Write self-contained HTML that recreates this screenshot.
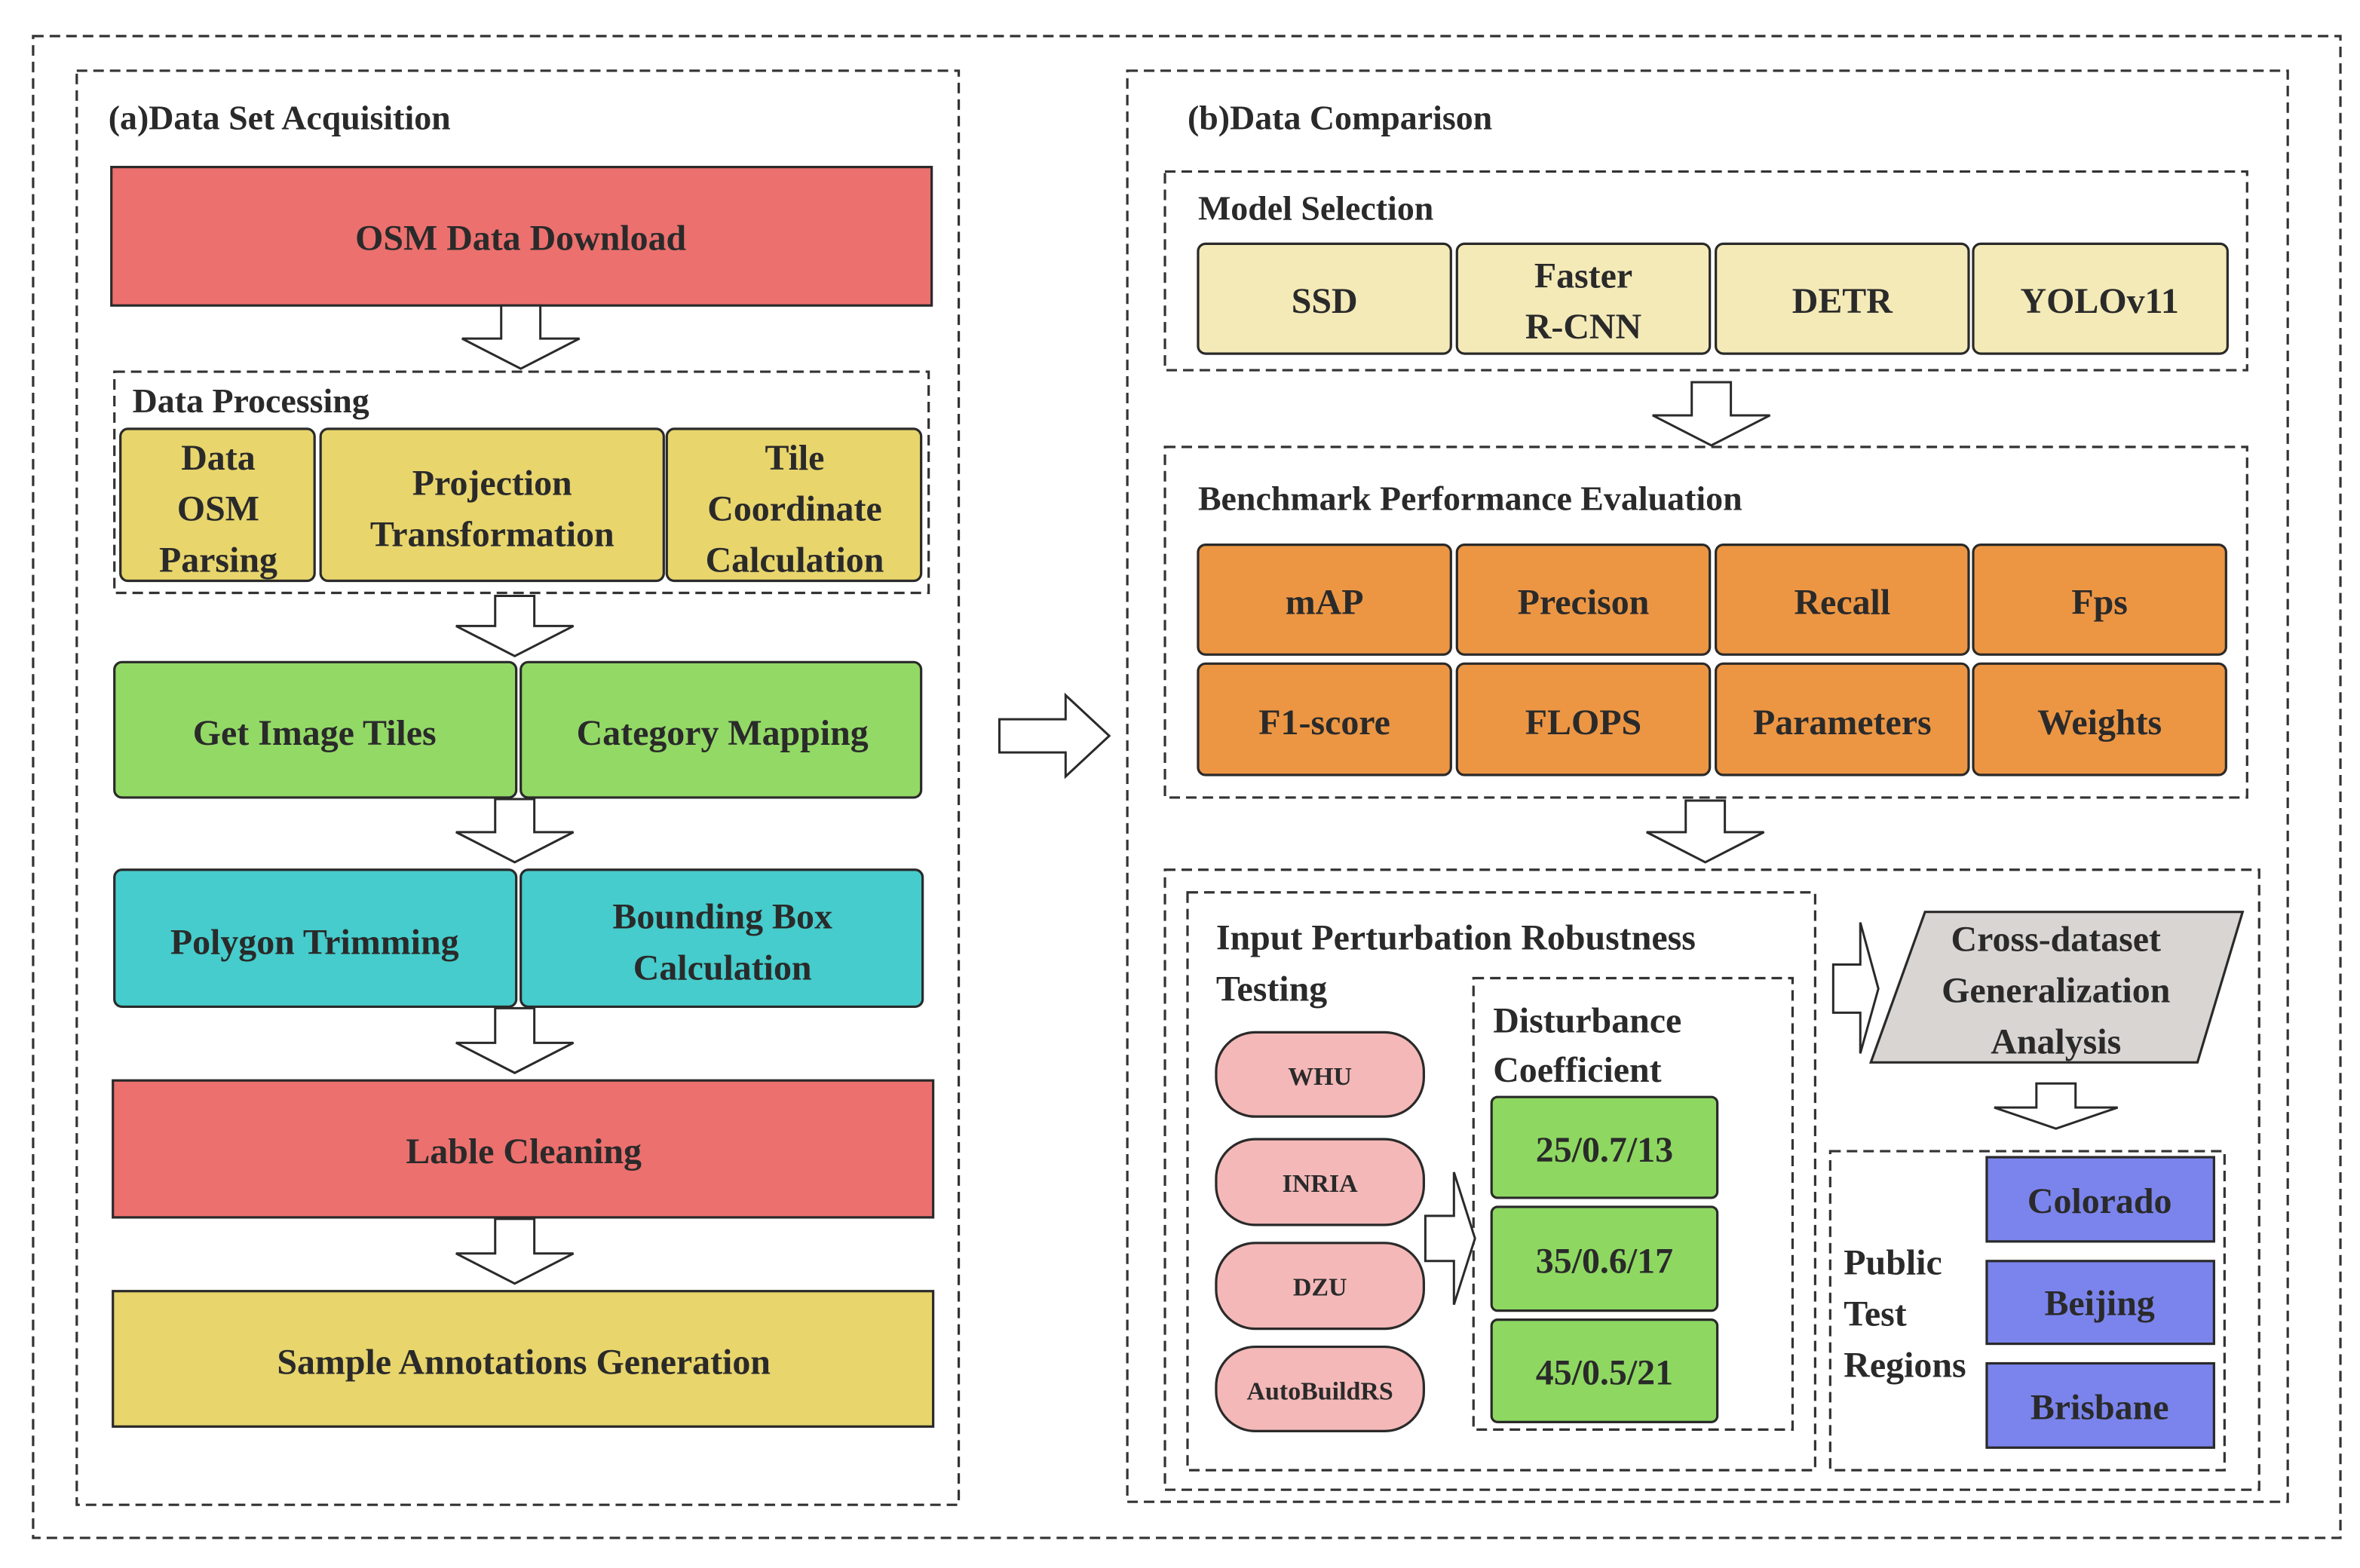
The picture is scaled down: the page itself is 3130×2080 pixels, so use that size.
<!DOCTYPE html>
<html><head><meta charset="utf-8"><style>
html,body{margin:0;padding:0;background:#fff;}
svg{display:block;}
text{font-family:"Liberation Serif","Times New Roman",Times,"DejaVu Serif Condensed","DejaVu Serif",serif;font-weight:bold;fill:#2a2a2a;}
</style></head><body>
<svg width="3130" height="2080" viewBox="0 0 1568 1042" preserveAspectRatio="none" xmlns="http://www.w3.org/2000/svg">
<defs>
<style>
.d{fill:none;stroke:#333;stroke-width:1.6;stroke-dasharray:7,4;}
.b{stroke:#2a2a2a;stroke-width:1.6;}
.ar{fill:#fff;stroke:#2a2a2a;stroke-width:1.5;}
.c{text-anchor:middle;}
</style>
</defs>
<rect class="d" x="22" y="24" width="1533" height="998"/>
<rect class="d" x="51" y="47" width="586" height="953"/>
<text x="72" y="86" font-size="23">(a)Data Set Acquisition</text>
<rect class="b" x="74" y="111" width="545" height="92" fill="#ec706e"/>
<text class="c" x="346" y="166" font-size="24">OSM Data Download</text>
<path class="ar" d="M333,203 L359,203 L359,225 L385,225 L346,245 L307,225 L333,225 Z"/>
<rect class="d" x="76" y="247" width="541" height="147"/>
<text x="88" y="274" font-size="23">Data Processing</text>
<rect class="b" x="80" y="285" width="129" height="101" rx="5" fill="#e8d56c"/>
<rect class="b" x="213" y="285" width="228" height="101" rx="5" fill="#e8d56c"/>
<rect class="b" x="443" y="285" width="169" height="101" rx="5" fill="#e8d56c"/>
<text class="c" x="145" y="312" font-size="24">Data</text>
<text class="c" x="145" y="346" font-size="24">OSM</text>
<text class="c" x="145" y="380" font-size="24">Parsing</text>
<text class="c" x="327" y="329" font-size="24">Projection</text>
<text class="c" x="327" y="363" font-size="24">Transformation</text>
<text class="c" x="528" y="312" font-size="24">Tile</text>
<text class="c" x="528" y="346" font-size="24">Coordinate</text>
<text class="c" x="528" y="380" font-size="24">Calculation</text>
<path class="ar" d="M329,396 L355,396 L355,416 L381,416 L342,436 L303,416 L329,416 Z"/>
<rect class="b" x="76" y="440" width="267" height="90" rx="5" fill="#93d966"/>
<rect class="b" x="346" y="440" width="266" height="90" rx="5" fill="#93d966"/>
<text class="c" x="209" y="495" font-size="24">Get Image Tiles</text>
<text class="c" x="480" y="495" font-size="24">Category Mapping</text>
<path class="ar" d="M329,531 L355,531 L355,553 L381,553 L342,573 L303,553 L329,553 Z"/>
<rect class="b" x="76" y="578" width="267" height="91" rx="5" fill="#46cccc"/>
<rect class="b" x="346" y="578" width="267" height="91" rx="5" fill="#46cccc"/>
<text class="c" x="209" y="634" font-size="24">Polygon Trimming</text>
<text class="c" x="480" y="617" font-size="24">Bounding Box</text>
<text class="c" x="480" y="651" font-size="24">Calculation</text>
<path class="ar" d="M329,670 L355,670 L355,693 L381,693 L342,713 L303,693 L329,693 Z"/>
<rect class="b" x="75" y="718" width="545" height="91" fill="#ec706e"/>
<text class="c" x="348" y="773" font-size="24">Lable Cleaning</text>
<path class="ar" d="M329,810 L355,810 L355,833 L381,833 L342,853 L303,833 L329,833 Z"/>
<rect class="b" x="75" y="858" width="545" height="90" fill="#e8d56c"/>
<text class="c" x="348" y="913" font-size="24">Sample Annotations Generation</text>
<path class="ar" d="M664,478 L708,478 L708,462 L737,489 L708,516 L708,500 L664,500 Z"/>
<rect class="d" x="749" y="47" width="771" height="951"/>
<text x="789" y="86" font-size="23">(b)Data Comparison</text>
<rect class="d" x="774" y="114" width="719" height="132"/>
<text x="796" y="146" font-size="23">Model Selection</text>
<rect class="b" x="796" y="162" width="168" height="73" rx="5" fill="#f4eab8"/>
<rect class="b" x="968" y="162" width="168" height="73" rx="5" fill="#f4eab8"/>
<rect class="b" x="1140" y="162" width="168" height="73" rx="5" fill="#f4eab8"/>
<rect class="b" x="1311" y="162" width="169" height="73" rx="5" fill="#f4eab8"/>
<text class="c" x="880" y="208" font-size="24">SSD</text>
<text class="c" x="1052" y="191" font-size="24">Faster</text>
<text class="c" x="1052" y="225" font-size="24">R-CNN</text>
<text class="c" x="1224" y="208" font-size="24">DETR</text>
<text class="c" x="1395" y="208" font-size="24">YOLOv11</text>
<path class="ar" d="M1124,254 L1150,254 L1150,276 L1176,276 L1137,296 L1098,276 L1124,276 Z"/>
<rect class="d" x="774" y="297" width="719" height="233"/>
<text x="796" y="339" font-size="23">Benchmark Performance Evaluation</text>
<g fill="#ec9644">
<rect class="b" x="796" y="362" width="168" height="73" rx="5"/>
<rect class="b" x="968" y="362" width="168" height="73" rx="5"/>
<rect class="b" x="1140" y="362" width="168" height="73" rx="5"/>
<rect class="b" x="1311" y="362" width="168" height="73" rx="5"/>
<rect class="b" x="796" y="441" width="168" height="74" rx="5"/>
<rect class="b" x="968" y="441" width="168" height="74" rx="5"/>
<rect class="b" x="1140" y="441" width="168" height="74" rx="5"/>
<rect class="b" x="1311" y="441" width="168" height="74" rx="5"/>
</g>
<text class="c" x="880" y="408" font-size="24">mAP</text>
<text class="c" x="1052" y="408" font-size="24">Precison</text>
<text class="c" x="1224" y="408" font-size="24">Recall</text>
<text class="c" x="1395" y="408" font-size="24">Fps</text>
<text class="c" x="880" y="488" font-size="24">F1-score</text>
<text class="c" x="1052" y="488" font-size="24">FLOPS</text>
<text class="c" x="1224" y="488" font-size="24">Parameters</text>
<text class="c" x="1395" y="488" font-size="24">Weights</text>
<path class="ar" d="M1120,532 L1146,532 L1146,553 L1172,553 L1133,573 L1094,553 L1120,553 Z"/>
<rect class="d" x="774" y="578" width="727" height="412"/>
<rect class="d" x="789" y="593" width="417" height="384"/>
<text x="808" y="631" font-size="24">Input Perturbation Robustness</text>
<text x="808" y="665" font-size="24">Testing</text>
<rect class="d" x="979" y="650" width="212" height="300"/>
<text x="992" y="686" font-size="24">Disturbance</text>
<text x="992" y="719" font-size="24">Coefficient</text>
<g fill="#f4b8b8">
<rect class="b" x="808" y="686" width="138" height="56" rx="26"/>
<rect class="b" x="808" y="757" width="138" height="57" rx="26"/>
<rect class="b" x="808" y="826" width="138" height="57" rx="26"/>
<rect class="b" x="808" y="895" width="138" height="56" rx="26"/>
</g>
<text class="c" x="877" y="721" font-size="17">WHU</text>
<text class="c" x="877" y="792" font-size="17">INRIA</text>
<text class="c" x="877" y="861" font-size="17">DZU</text>
<text class="c" x="877" y="930" font-size="17">AutoBuildRS</text>
<path class="ar" d="M947,808 L966,808 L966,779 L980,823 L966,867 L966,838 L947,838 Z"/>
<g fill="#8ed862">
<rect class="b" x="991" y="729" width="150" height="67" rx="4"/>
<rect class="b" x="991" y="802" width="150" height="69" rx="4"/>
<rect class="b" x="991" y="877" width="150" height="68" rx="4"/>
</g>
<text class="c" x="1066" y="772" font-size="24">25/0.7/13</text>
<text class="c" x="1066" y="846" font-size="24">35/0.6/17</text>
<text class="c" x="1066" y="920" font-size="24">45/0.5/21</text>
<path class="ar" d="M1218,641 L1236,641 L1236,613 L1248,657 L1236,700 L1236,673 L1218,673 Z"/>
<path class="b" d="M1279,606 L1490,606 L1460,706 L1243,706 Z" fill="#d9d5d2"/>
<text class="c" x="1366" y="632" font-size="24">Cross-dataset</text>
<text class="c" x="1366" y="666" font-size="24">Generalization</text>
<text class="c" x="1366" y="700" font-size="24">Analysis</text>
<path class="ar" d="M1353,720 L1379,720 L1379,736 L1407,736 L1366,750 L1325,736 L1353,736 Z"/>
<rect class="d" x="1216" y="765" width="262" height="212"/>
<g fill="#7b84ec">
<rect class="b" x="1320" y="769" width="151" height="56"/>
<rect class="b" x="1320" y="838" width="151" height="55"/>
<rect class="b" x="1320" y="906" width="151" height="56"/>
</g>
<text class="c" x="1395" y="806" font-size="24">Colorado</text>
<text class="c" x="1395" y="874" font-size="24">Beijing</text>
<text class="c" x="1395" y="943" font-size="24">Brisbane</text>
<text x="1225" y="847" font-size="24">Public</text>
<text x="1225" y="881" font-size="24">Test</text>
<text x="1225" y="915" font-size="24">Regions</text>
</svg>
</body></html>
